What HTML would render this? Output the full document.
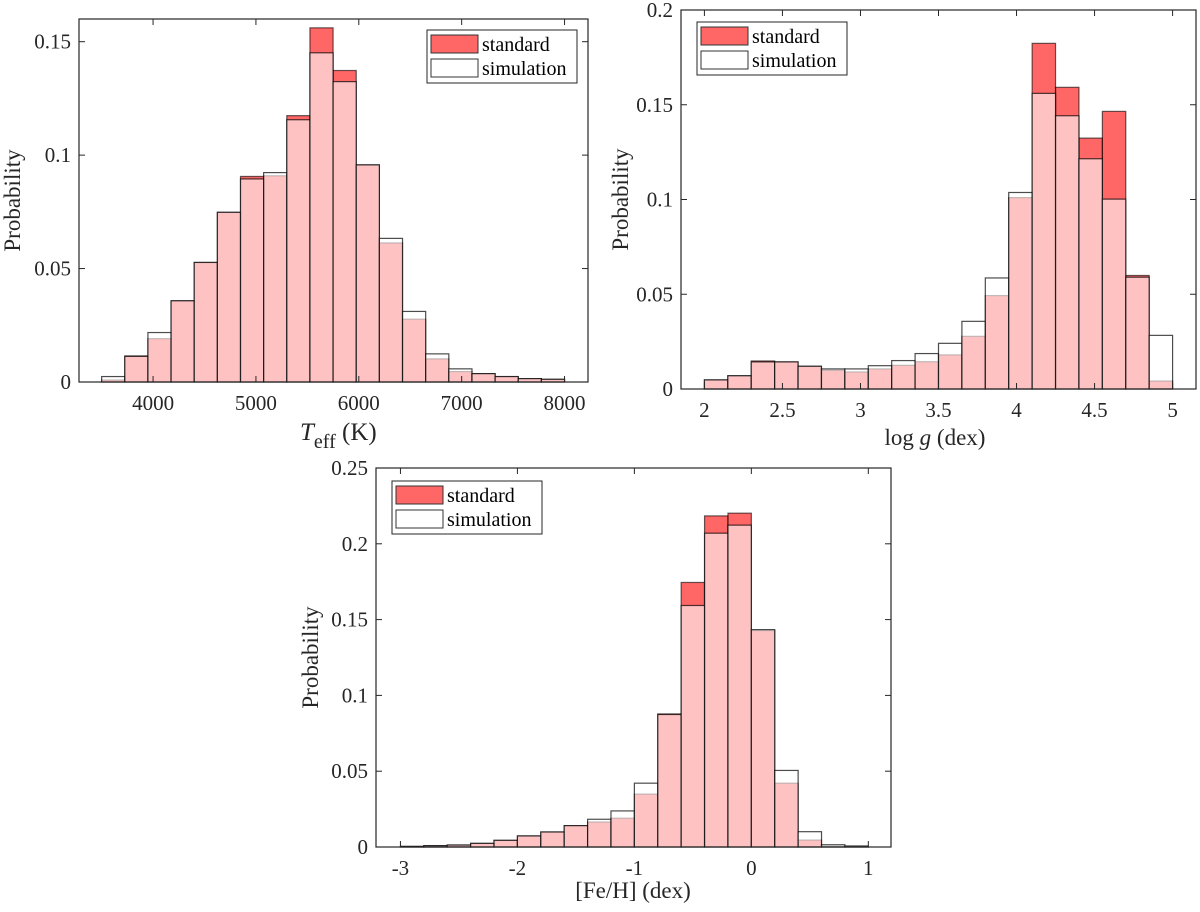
<!DOCTYPE html>
<html><head><meta charset="utf-8"><style>
html,body{margin:0;padding:0;background:#fff;}
svg{display:block;font-family:"Liberation Serif",serif;}
</style></head><body>
<svg id="fig" width="1200" height="912" viewBox="0 0 1200 912" xmlns="http://www.w3.org/2000/svg"></svg>
<script>
// Panel 1: Teff
const teffEdgesStart = 3500;
const teffBinWidth = 225;
const teffStandard = [0.0009,0.0115,0.0191,0.0358,0.0527,0.0748,0.0906,0.0909,0.1174,0.1561,0.1373,0.0957,0.0613,0.0277,0.0102,0.0046,0.0037,0.0024,0.0015,0.0012];
const teffSimulation = [0.0024,0.0113,0.0218,0.0358,0.0527,0.0748,0.0895,0.0923,0.1156,0.1451,0.1324,0.0957,0.0633,0.0311,0.0124,0.0058,0.0037,0.0024,0.0015,0.0012];
const teffXTicks = [4000,5000,6000,7000,8000];
const teffYTicks = [0,0.05,0.1,0.15];
const teffYTickLabels = ["0","0.05","0.1","0.15"];
// Panel 2: log g
const loggEdgesStart = 2;
const loggBinWidth = 0.15;
const loggStandard = [0.0048,0.0070,0.0148,0.0143,0.0120,0.0099,0.0090,0.0106,0.0125,0.0144,0.0180,0.0278,0.0493,0.1010,0.1824,0.1592,0.1324,0.1465,0.0599,0.0042];
const loggSimulation = [0.0048,0.0070,0.0143,0.0143,0.0120,0.0106,0.0106,0.0123,0.0150,0.0187,0.0241,0.0357,0.0586,0.1037,0.1560,0.1442,0.1215,0.1002,0.0590,0.0283];
const loggXTicks = [2,2.5,3,3.5,4,4.5,5];
const loggXTickLabels = ["2","2.5","3","3.5","4","4.5","5"];
const loggYTicks = [0,0.05,0.1,0.15,0.2];
const loggYTickLabels = ["0","0.05","0.1","0.15","0.2"];
// Panel 3: [Fe/H]
const fehEdgesStart = -3;
const fehBinWidth = 0.2;
const fehStandard = [0.0004,0.0009,0.0013,0.0024,0.0044,0.0073,0.0099,0.0141,0.0165,0.0190,0.0349,0.0878,0.1745,0.2184,0.2202,0.1428,0.0421,0.0046,0.0004,0.0002];
const fehSimulation = [0.0004,0.0009,0.0013,0.0024,0.0044,0.0073,0.0099,0.0141,0.0183,0.0238,0.0421,0.0874,0.1593,0.2070,0.2123,0.1434,0.0505,0.0101,0.0015,0.0007];
const fehXTicks = [-3,-2,-1,0,1];
const fehXTickLabels = ["-3","-2","-1","0","1"];
const fehYTicks = [0,0.05,0.1,0.15,0.2,0.25];
const fehYTickLabels = ["0","0.05","0.1","0.15","0.2","0.25"];

const NS = "http://www.w3.org/2000/svg";
const svg = document.getElementById('fig');
function mk(tag, attrs, parent){
  const e = document.createElementNS(NS, tag);
  for (const k in attrs) e.setAttribute(k, attrs[k]);
  (parent||svg).appendChild(e);
  return e;
}

function panel(cfg){
  const g = mk('g', {});
  
  
  const L=cfg.left,R=cfg.right,T=cfg.top,B=cfg.bottom;
  const xs = v => L + (v-cfg.xmin)/(cfg.xmax-cfg.xmin)*(R-L);
  const ys = v => B - (v-cfg.ymin)/(cfg.ymax-cfg.ymin)*(B-T);
  // standard bars (red)
  cfg.std.forEach((v,i)=>{
    const x0 = xs(cfg.start + i*cfg.bw), x1 = xs(cfg.start+(i+1)*cfg.bw);
    const r = mk('rect', {x:x0, y:ys(v), width:x1-x0, height:ys(0)-ys(v), fill:'rgb(255,0,0)', 'fill-opacity':0.6, stroke:'#000', 'stroke-opacity':0.6, 'stroke-width':1.2}, g);
    
    
  });
  // simulation bars (white translucent)
  cfg.sim.forEach((v,i)=>{
    const x0 = xs(cfg.start + i*cfg.bw), x1 = xs(cfg.start+(i+1)*cfg.bw);
    const r = mk('rect', {x:x0, y:ys(v), width:x1-x0, height:ys(0)-ys(v), fill:'#fff', 'fill-opacity':0.6, stroke:'#000', 'stroke-opacity':0.7, 'stroke-width':1.2}, g);
    
    
  });
  // axes box
  const box = mk('rect', {x:L, y:T, width:R-L, height:B-T, fill:'none', stroke:'#262626', 'stroke-width':1.2}, g);
  
  
  const tl = 6;
  cfg.xticks.forEach((v,i)=>{
    const x = xs(v);
    mk('line', {x1:x,x2:x,y1:B,y2:B-tl,stroke:'#262626','stroke-width':1}, g);
    mk('line', {x1:x,x2:x,y1:T,y2:T+tl,stroke:'#262626','stroke-width':1}, g);
    const t = mk('text', {x:x, y:B+28, 'text-anchor':'middle', 'font-size':21, fill:'#262626'}, g);
    t.textContent = cfg.xlabels[i];
    
    
  });
  cfg.yticks.forEach((v,i)=>{
    const y = ys(v);
    mk('line', {x1:L,x2:L+tl,y1:y,y2:y,stroke:'#262626','stroke-width':1}, g);
    mk('line', {x1:R,x2:R-tl,y1:y,y2:y,stroke:'#262626','stroke-width':1}, g);
    const t = mk('text', {x:L-8, y:y+7, 'text-anchor':'end', 'font-size':21, fill:'#262626'}, g);
    t.textContent = cfg.ylabels[i];
    
    
  });
  // y-axis title
  const yt = mk('text', {x:0, y:0, 'text-anchor':'middle', 'font-size':23, fill:'#262626', transform:`translate(${cfg.ytx},${(T+B)/2}) rotate(-90)`}, g);
  yt.textContent = 'Probability';
  
  
  // legend
  const lg = mk('g', {}, g);
  
  
  const lx = cfg.legX, ly = cfg.legY;
  mk('rect', {x:lx, y:ly, width:150, height:53, fill:'#fff', stroke:'#262626', 'stroke-width':1}, lg);
  const s1 = mk('rect', {x:lx+4, y:ly+5, width:47, height:18, fill:'rgb(255,102,102)', stroke:'#333', 'stroke-width':1}, lg);
  
  
  const t1 = mk('text', {x:lx+55, y:ly+21, 'font-size':20, fill:'#000'}, lg);
  t1.textContent = 'standard';
  
  
  const s2 = mk('rect', {x:lx+4, y:ly+29, width:47, height:18, fill:'#fff', stroke:'#333', 'stroke-width':1}, lg);
  
  
  const t2 = mk('text', {x:lx+55, y:ly+45, 'font-size':20, fill:'#000'}, lg);
  t2.textContent = 'simulation';
  
  
  return g;
}

const p1 = panel({name:'teff-histogram', left:79, right:588, top:19, bottom:382, xmin:3280, xmax:8228, ymin:0, ymax:0.16,
  start:teffEdgesStart, bw:teffBinWidth, std:teffStandard, sim:teffSimulation,
  xticks:teffXTicks, xlabels:teffXTicks.map(String), yticks:teffYTicks, ylabels:teffYTickLabels,
  ytx:20, legX:427, legY:30});
const xt1 = mk('text', {x:300, y:440, 'font-size':25, fill:'#262626'}, p1);


xt1.innerHTML = '<tspan font-style="italic">T</tspan><tspan font-size="20" dy="8">eff</tspan><tspan dy="-8"> (K)</tspan>';

const p2 = panel({name:'logg-histogram', left:681, right:1196, top:10, bottom:389, xmin:1.85, xmax:5.15, ymin:0, ymax:0.2,
  start:loggEdgesStart, bw:loggBinWidth, std:loggStandard, sim:loggSimulation,
  xticks:loggXTicks, xlabels:loggXTickLabels, yticks:loggYTicks, ylabels:loggYTickLabels,
  ytx:628, legX:697, legY:22});
const xt2 = mk('text', {x:935, y:445, 'text-anchor':'middle', 'font-size':23, fill:'#262626'}, p2);


xt2.innerHTML = 'log <tspan font-style="italic">g</tspan>  (dex)';

const p3 = panel({name:'feh-histogram', left:376, right:891, top:468, bottom:847, xmin:-3.209, xmax:1.194, ymin:0, ymax:0.25,
  start:fehEdgesStart, bw:fehBinWidth, std:fehStandard, sim:fehSimulation,
  xticks:fehXTicks, xlabels:fehXTickLabels, yticks:fehYTicks, ylabels:fehYTickLabels,
  ytx:318, legX:392, legY:481});
const xt3 = mk('text', {x:633, y:898, 'text-anchor':'middle', 'font-size':23, fill:'#262626'}, p3);
xt3.textContent = '[Fe/H] (dex)';


</script>
</body></html>
